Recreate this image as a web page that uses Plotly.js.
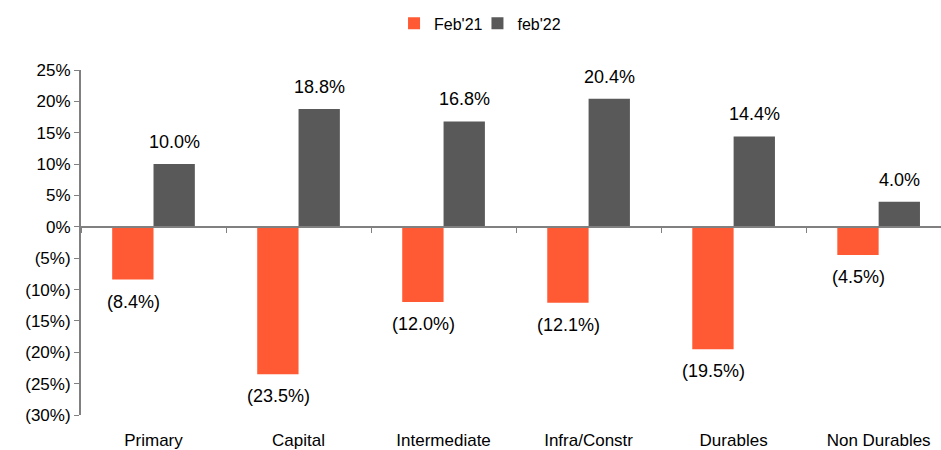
<!DOCTYPE html>
<html>
<head>
<meta charset="utf-8">
<script src="https://cdn.plot.ly/plotly-3.0.1.min.js"></script>
<style>html,body{margin:0;padding:0;background:#fff;}#chart{width:941px;height:450px;}</style>
</head>
<body>
<div id="chart"></div>
<script>
var categories = ["Primary", "Capital", "Intermediate", "Infra/Constr", "Durables", "Non Durables"];
var feb21 = [-8.4, -23.5, -12.0, -12.1, -19.5, -4.5];
var feb22 = [10.0, 18.8, 16.8, 20.4, 14.4, 4.0];
var yTickVals = [25, 20, 15, 10, 5, 0, -5, -10, -15, -20, -25, -30];
var yTickText = ["25%", "20%", "15%", "10%", "5%", "0%", "(5%)", "(10%)", "(15%)", "(20%)", "(25%)", "(30%)"];

function fmt(v) {
  var s = Math.abs(v).toFixed(1) + "%";
  return v < 0 ? "(" + s + ")" : s;
}

var fam = "Liberation Sans, Arial, sans-serif";
var tickFont = {family: fam, size: 17, color: "#000"};
var labelFont = {family: fam, size: 18, color: "#000"};
var legendFont = {family: fam, size: 16, color: "#000"};

var traces = [
  {type: "bar", name: "Feb'21", x: categories, y: feb21, legend: "legend",
   marker: {color: "#FF5A33"}},
  {type: "bar", name: "feb'22", x: categories, y: feb22, legend: "legend2",
   marker: {color: "#595959"}}
];

function labels(vals, shift) {
  return vals.map(function (v, i) {
    return {x: categories[i], y: v, xref: "x", yref: "y", text: fmt(v),
            showarrow: false, xshift: shift, font: labelFont,
            yanchor: v < 0 ? "top" : "bottom", yshift: v < 0 ? -10 : 10};
  });
}
var annotations = labels(feb21, -20.5).concat(labels(feb22, 20.5));

var layout = {
  width: 941, height: 450,
  margin: {l: 81, r: 0, t: 70, b: 35, autoexpand: false},
  paper_bgcolor: "#fff", plot_bgcolor: "#fff",
  font: tickFont,
  barmode: "group", bargap: 0.43, bargroupgap: 0,
  showlegend: true,
  legend: {orientation: "h", x: 0.364, xanchor: "left", y: 1.135, yanchor: "middle",
           font: legendFont, bgcolor: "rgba(0,0,0,0)"},
  legend2: {orientation: "h", x: 0.461, xanchor: "left", y: 1.135, yanchor: "middle",
           font: legendFont, bgcolor: "rgba(0,0,0,0)"},
  annotations: annotations,
  xaxis: {type: "category", range: [-0.5, 5.43], anchor: "free", position: 30/55,
          showline: true, linecolor: "#808080", linewidth: 2,
          ticks: "outside", tickson: "boundaries", ticklen: 5, tickcolor: "#808080",
          ticklabelstandoff: 198, tickfont: tickFont, showgrid: false, zeroline: false},
  yaxis: {range: [-30, 25], tickvals: yTickVals, ticktext: yTickText,
          showline: true, linecolor: "#808080", linewidth: 2,
          ticks: "outside", ticklen: 5, tickcolor: "#808080",
          showgrid: false, zeroline: false, tickfont: tickFont}
};

Plotly.newPlot("chart", traces, layout, {displayModeBar: false, staticPlot: true});
</script>
</body>
</html>
